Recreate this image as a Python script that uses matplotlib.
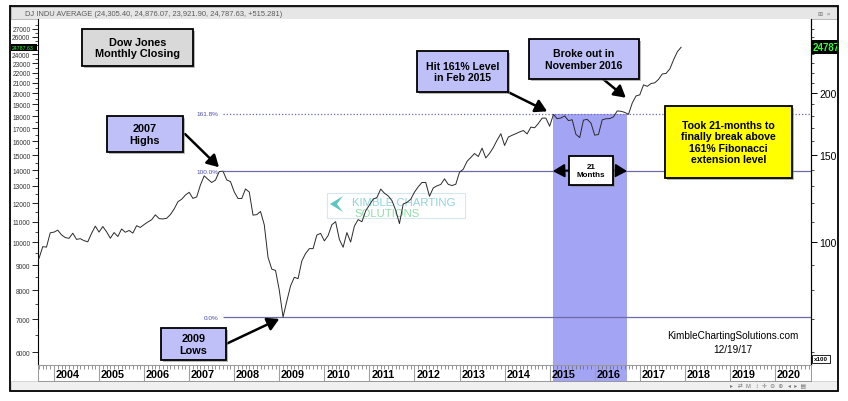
import numpy as np
import matplotlib
matplotlib.use("Agg")
import matplotlib.pyplot as plt
from matplotlib.patches import Rectangle, Polygon
from matplotlib.ticker import FixedLocator, FixedFormatter, NullFormatter

plt.rcParams['font.family'] = ['Liberation Sans', 'DejaVu Sans']

# Dow Jones monthly closes, Aug 2003 -> Dec 2017
dow_2003 = [9416, 9275, 9801, 9782, 10454]
dow_2004 = [10488, 10584, 10358, 10226, 10188, 10435, 10140, 10174, 10080, 10027, 10428, 10783]
dow_2005 = [10490, 10766, 10504, 10193, 10467, 10275, 10641, 10482, 10569, 10440, 10806, 10718]
dow_2006 = [10865, 10993, 11109, 11367, 11168, 11150, 11186, 11381, 11679, 12081, 12222, 12463]
dow_2007 = [12622, 12269, 12354, 13063, 13628, 13409, 13212, 13358, 13896, 13930, 13372, 13265]
dow_2008 = [12650, 12266, 12263, 12820, 12638, 11350, 11378, 11544, 10851, 9325, 8829, 8776]
dow_2009 = [8001, 7063, 7609, 8168, 8500, 8447, 9172, 9496, 9712, 9713, 10345, 10428]
dow_2010 = [10067, 10325, 10857, 11009, 10137, 9774, 10466, 10015, 10788, 11118, 11006, 11578]
dow_2011 = [11892, 12226, 12320, 12811, 12570, 12414, 12143, 11614, 10913, 11955, 12046, 12218]
dow_2012 = [12633, 12952, 13212, 13214, 12393, 12880, 13009, 13091, 13437, 13096, 13026, 13104]
dow_2013 = [13861, 14054, 14579, 14840, 15116, 14910, 15500, 14810, 15130, 15546, 16086, 16577]
dow_2014 = [15699, 16322, 16458, 16581, 16717, 16827, 16563, 17098, 17043, 17391, 17828, 17823]
dow_2015 = [17165, 18133, 17776, 17841, 18011, 17620, 17690, 16528, 16285, 17664, 17720, 17425]
dow_2016 = [16466, 16517, 17685, 17774, 17787, 17930, 18432, 18401, 18308, 18142, 19124, 19763]
dow_2017 = [19864, 20812, 20663, 20941, 21009, 21350, 21891, 21948, 22405, 23377, 24272, 24788]

closes = np.array(dow_2003 + dow_2004 + dow_2005 + dow_2006 + dow_2007 + dow_2008 +
                  dow_2009 + dow_2010 + dow_2011 + dow_2012 + dow_2013 + dow_2014 +
                  dow_2015 + dow_2016 + dow_2017)
months = 2003 + 7 / 12 + np.arange(len(closes)) / 12

high_2007 = max(dow_2007)
low_2009 = min(dow_2009)
fib_ratios = [0.0, 1.0, 1.618]
fib_labels = ['0.0%', '100.0%', '161.8%']
fib_values = [low_2009 + r * (high_2007 - low_2009) for r in fib_ratios]

years = list(range(2004, 2021))
left_ticks = list(range(6000, 28000, 1000))
# 25000 label sits under the last-price tag
left_labels = ['' if t == 25000 else str(t) for t in left_ticks]
right_ticks = [10000, 15000, 20000]
right_labels = ['100', '150', '200']

shade_span = (2015.07, 2016.72)
x_range = (2003.645, 2020.80)
y_range = (5652, 28270)

shade_col = '#a4a4f4'
box_col = '#c0c0f8'
fib_col = '#6b6ba8'

W, H = 848, 402
fig = plt.figure(figsize=(W / 100, H / 100), dpi=100)


def rect_px(x0, y0, x1, y1):
    return [x0 / W, 1 - y1 / H, (x1 - x0) / W, (y1 - y0) / H]


def fig_rect(x0, y0, x1, y1, **kw):
    r = rect_px(x0, y0, x1, y1)
    p = Rectangle((r[0], r[1]), r[2], r[3], transform=fig.transFigure, **kw)
    fig.add_artist(p)
    return p


def note_box(x0, y0, x1, y1, face, text, fs):
    fig_rect(x0 + 2, y0 + 2, x1 + 2, y1 + 2, fc='#8a8a8a', ec='none', alpha=0.6, zorder=4)
    fig_rect(x0, y0, x1, y1, fc=face, ec='black', lw=1.3, zorder=5)
    fig.text((x0 + x1) / 2 / W, 1 - (y0 + y1) / 2 / H, text, ha='center', va='center',
             fontsize=fs, weight='bold', linespacing=1.15, zorder=6)


# window chrome
fig_rect(11, 8, 837, 20, fc='#e6e6e6', ec='#b0b0b0', lw=0.6, zorder=0)
fig.text(25 / W, 1 - 14 / H,
         'DJ INDU AVERAGE (24,305.40, 24,876.07, 23,921.90, 24,787.63, +515.281)',
         fontsize=5.4, color='#5a5a5a', va='center')
fig.text(818 / W, 1 - 14 / H, '⊞  ×', fontsize=4.5, color='#777777', va='center')
fig_rect(11, 382, 837, 392, fc='#f0f0f0', ec='#c8c8c8', lw=0.5, zorder=0)
fig.text(730 / W, 1 - 387 / H, '▸   ⇄  M   ↕  ✛  ⊖  ⊕   ◂  ▸  ▤', fontsize=4.2,
         color='#777777', va='center')
fig_rect(10, 7, 838, 392, fill=False, ec='black', lw=1.3, zorder=10)

# main chart
ax = fig.add_axes(rect_px(38, 20, 811, 366))
ax.set_yscale('log')
ax.set_xlim(x_range)
ax.set_ylim(y_range)
ax.fill_between(shade_span, y_range[0], fib_values[2], color=shade_col, lw=0, zorder=1)
ax.plot(months, closes, color='#2a2a2a', lw=0.7, zorder=3)

fib_start = 2007.76
label_x = 2007.64
for val, lab in zip(fib_values, fib_labels):
    style = (0, (1, 1.6)) if lab == '161.8%' else '-'
    ax.hlines(val, fib_start, x_range[1], colors=fib_col, lw=0.9, linestyles=style, zorder=2)
    ax.text(label_x, val, lab, ha='right', va='center', fontsize=4.6, color='#4a4ab0', zorder=3)

ax.yaxis.set_major_locator(FixedLocator(left_ticks))
ax.yaxis.set_major_formatter(FixedFormatter(left_labels))
ax.yaxis.set_minor_locator(FixedLocator(list(range(6500, 28000, 1000))))
ax.yaxis.set_minor_formatter(NullFormatter())
ax.tick_params(axis='y', which='major', length=4, width=0.6, labelsize=4.8,
               labelcolor='#333333', pad=1.5)
ax.tick_params(axis='y', which='minor', length=2, width=0.5)
ax.set_xticks([])
ax.spines['top'].set_visible(False)
ax.spines['bottom'].set_color('#999999')
ax.spines['left'].set_linewidth(0.8)

ax2 = ax.twinx()
ax2.set_yscale('log')
ax2.set_ylim(y_range)
ax2.yaxis.set_major_locator(FixedLocator(right_ticks))
ax2.yaxis.set_major_formatter(FixedFormatter(right_labels))
ax2.yaxis.set_minor_locator(FixedLocator(list(range(6000, 28000, 1000))))
ax2.yaxis.set_minor_formatter(NullFormatter())
ax2.tick_params(axis='y', which='major', length=4, width=0.7, labelsize=7.5, pad=2)
ax2.tick_params(axis='y', which='minor', length=2, width=0.5)
ax2.spines['top'].set_visible(False)
ax2.spines['bottom'].set_visible(False)
ax2.spines['left'].set_visible(False)
ax2.spines['right'].set_linewidth(0.8)

# watermark
ax.add_artist(Rectangle((327 / W, 1 - 219 / H), 138 / W, 25 / H, transform=fig.transFigure,
                        fc='white', ec='#c8dce6', lw=0.8, alpha=0.7, zorder=2))
ax.add_artist(Polygon([(343 / W, 1 - 197 / H), (330 / W, 1 - 205 / H), (343 / W, 1 - 213 / H),
                       (337 / W, 1 - 205 / H)], closed=True, transform=fig.transFigure,
                      fc='#5cc6c0', ec='none', zorder=2))
ax.text(404 / W, 1 - 203.5 / H, 'KIMBLE CHARTING', transform=fig.transFigure, ha='center',
        va='center', fontsize=8.2, color='#8ed4dc', zorder=2)
ax.text(387 / W, 1 - 214 / H, 'SOLUTIONS', transform=fig.transFigure, ha='center',
        va='center', fontsize=8.2, color='#92dca8', zorder=2)

# date strip
sx = fig.add_axes(rect_px(38, 366, 811, 382))
sx.set_xlim(x_range)
sx.set_ylim(0, 1)
sx.axvspan(*shade_span, color=shade_col, lw=0)
for yr in years:
    sx.axvline(yr, color='#a0a0a0', lw=0.8)
    sx.text(yr + 0.04, 0.42, str(yr), fontsize=7.8, weight='bold', va='center', ha='left')
sx.set_xticks(years)
sx.set_xticks(np.arange(2003 + 8 / 12, x_range[1], 1 / 12), minor=True)
sx.set_xticklabels([])
sx.tick_params(axis='x', which='both', top=True, bottom=False, direction='in',
               colors='#666666', width=0.5)
sx.tick_params(axis='x', which='major', length=4)
sx.tick_params(axis='x', which='minor', length=3)
sx.set_yticks([])
for s in sx.spines.values():
    s.set_color('#999999')
    s.set_linewidth(0.7)

# price tags
fig_rect(11, 45, 37, 52, fc='black', ec='none', zorder=5)
fig.text(12 / W, 1 - 48.5 / H, '24787.63', fontsize=3.8, color='#33ff33', va='center', zorder=6)
fig_rect(812, 41, 837, 55, fc='black', ec='none', zorder=5)
fig.text(813 / W, 1 - 48 / H, '24787', fontsize=7.0, weight='bold', color='#33ff33',
         va='center', zorder=6)
fig_rect(812, 356, 830, 364, fc='white', ec='black', lw=0.6, zorder=5)
fig.text(821 / W, 1 - 360 / H, 'x100', fontsize=4.5, weight='bold', ha='center',
         va='center', zorder=6)

# annotation boxes
note_box(82, 30, 193, 67, '#d9d9d9', 'Dow Jones\nMonthly Closing', 7.8)
note_box(107, 117, 183, 153, box_col, '2007\nHighs', 7.8)
note_box(161, 329, 226, 361, box_col, '2009\nLows', 7.8)
note_box(417, 52, 508, 93, box_col, 'Hit 161% Level\nin Feb 2015', 7.6)
note_box(529, 40, 639, 80, box_col, 'Broke out in\nNovember 2016', 7.6)
note_box(569, 157, 613, 186, 'white', '21\nMonths', 5.8)
note_box(665, 107, 792, 179, '#ffff00',
         'Took 21-months to\nfinally break above\n161% Fibonacci\nextension level', 7.6)

fig.text(733 / W, 1 - 336 / H, 'KimbleChartingSolutions.com', ha='center', va='center',
         fontsize=7.2)
fig.text(733 / W, 1 - 350 / H, '12/19/17', ha='center', va='center', fontsize=7.2)

# arrows
arrow = dict(arrowstyle='-|>,head_length=0.7,head_width=0.4', color='black', lw=1.8,
             mutation_scale=10, shrinkA=0)
i_high = int(np.argmax(closes[:60]))
i_low = int(np.argmin(closes))
i_hit = list(months.round(3)).index(round(2015 + 1 / 12, 3))
i_break = list(months.round(3)).index(round(2016 + 10 / 12, 3))
for (tx, ty), idx, shrink in [((185, 135), i_high, 4), ((226, 345), i_low, 3),
                              ((508, 93), i_hit, 5), ((603, 80), i_break, 6)]:
    ax2.annotate('', xy=(months[idx], closes[idx]), xytext=(tx, H - ty),
                 textcoords='figure pixels', annotation_clip=False,
                 arrowprops=dict(arrow, shrinkB=shrink))
for tx, xv in [(569, shade_span[0]), (613, shade_span[1])]:
    ax2.annotate('', xy=(xv, fib_values[1]), xytext=(tx, H - 171.5),
                 textcoords='figure pixels', annotation_clip=False,
                 arrowprops=dict(arrow, shrinkB=0, lw=1.4))

fig.savefig('out.png', dpi=100)
